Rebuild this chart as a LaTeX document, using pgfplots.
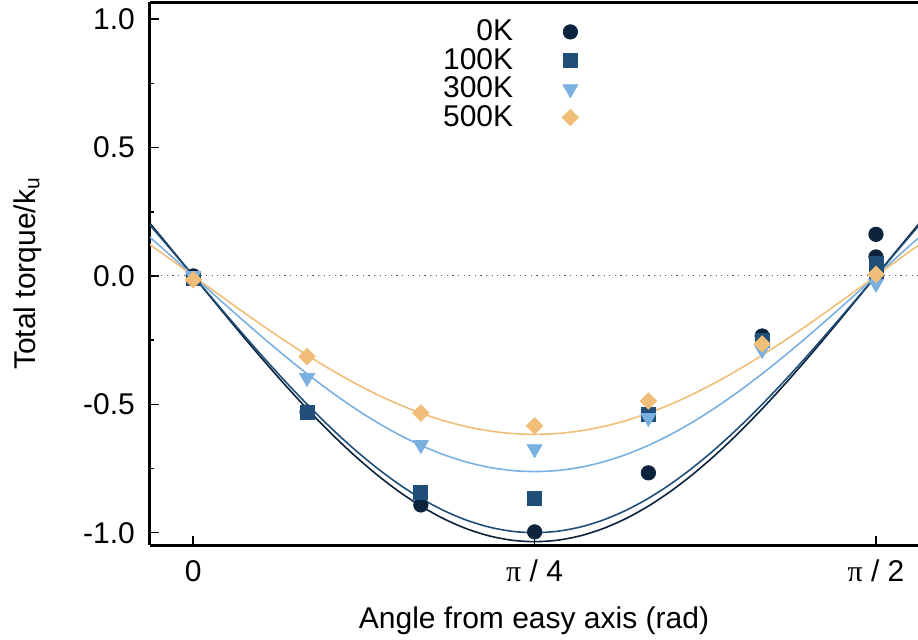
\documentclass[border=0pt]{standalone}
\usepackage{fontspec}
\setmainfont{Liberation Sans}
\newfontfamily\greekfont{Liberation Serif}
\usepackage{pgfplots}
\usepackage{pgfplotstable}
\pgfplotsset{compat=1.18}

\definecolor{c0}{HTML}{0B233C}
\definecolor{c100}{HTML}{1F4E79}
\definecolor{c300}{HTML}{7AB0E0}
\definecolor{c500}{HTML}{F0BE78}

% simulated total torque (angle in rad)
\pgfplotstableread{
theta t0 t100 t300 t500
0 0 -0.01 0 -0.015
0.261799 -0.53 -0.533 -0.397 -0.314
0.523599 -0.892 -0.845 -0.658 -0.534
0.785398 -0.997 -0.865 -0.674 -0.584
1.047198 -0.767 -0.538 -0.553 -0.487
1.308997 -0.234 -0.25 -0.288 -0.265
1.570796 0.162 0.05 -0.03 0.006
1.570796 0.074 0.015 nan nan
}\pts

% fitted curves
\pgfplotstableread{
theta f0 f100 f300 f500
-0.10472 0.21519 0.20791 0.15843 0.12828
-0.05236 0.10819 0.10453 0.07965 0.06450
0.00000 0 0 0 0
0.05236 -0.10819 -0.10453 -0.07965 -0.06450
0.10472 -0.21519 -0.20791 -0.15843 -0.12828
0.15708 -0.31984 -0.30902 -0.23547 -0.19067
0.20944 -0.42098 -0.40674 -0.30994 -0.25096
0.26180 -0.51750 -0.50000 -0.38100 -0.30850
0.31416 -0.60836 -0.58779 -0.44790 -0.36267
0.36652 -0.69255 -0.66913 -0.50988 -0.41285
0.41888 -0.76915 -0.74314 -0.56627 -0.45852
0.47124 -0.83734 -0.80902 -0.61647 -0.49917
0.52360 -0.89634 -0.86603 -0.65991 -0.53434
0.57596 -0.94552 -0.91355 -0.69613 -0.56366
0.62832 -0.98435 -0.95106 -0.72471 -0.58680
0.68068 -1.01239 -0.97815 -0.74535 -0.60352
0.73304 -1.02933 -0.99452 -0.75782 -0.61362
0.78540 -1.03500 -1.00000 -0.76200 -0.61700
0.83776 -1.02933 -0.99452 -0.75782 -0.61362
0.89012 -1.01239 -0.97815 -0.74535 -0.60352
0.94248 -0.98435 -0.95106 -0.72471 -0.58680
0.99484 -0.94552 -0.91355 -0.69613 -0.56366
1.04720 -0.89634 -0.86603 -0.65991 -0.53434
1.09956 -0.83734 -0.80902 -0.61647 -0.49917
1.15192 -0.76915 -0.74314 -0.56627 -0.45852
1.20428 -0.69255 -0.66913 -0.50988 -0.41285
1.25664 -0.60836 -0.58779 -0.44790 -0.36267
1.30900 -0.51750 -0.50000 -0.38100 -0.30850
1.36136 -0.42098 -0.40674 -0.30994 -0.25096
1.41372 -0.31984 -0.30902 -0.23547 -0.19067
1.46608 -0.21519 -0.20791 -0.15843 -0.12828
1.51844 -0.10819 -0.10453 -0.07965 -0.06450
1.57080 0 0 0 0
1.62316 0.10819 0.10453 0.07965 0.06450
1.67552 0.21519 0.20791 0.15843 0.12828
}\fits

\begin{document}
\begin{tikzpicture}[font=\fontsize{15}{18}\selectfont]
\begin{axis}[
  at={(0,0)}, anchor=south west,
  scale only axis, width=384pt, height=271.5pt,
  xmin=-0.0996, xmax=1.6675, ymin=-1.048, ymax=1.067,
  axis x line*=box, axis y line*=left,
  axis line style={line width=1.5pt, black},
  xtick={0,0.785398,1.570796},
  xticklabels={0, {\greekfont π} / 4, {\greekfont π} / 2},
  ytick={-1,-0.5,0,0.5,1},
  yticklabels={-1.0,-0.5,0.0,0.5,1.0},
  minor ytick={-0.75,-0.25,0.25,0.75},
  xtick pos=left, ytick pos=left,
  tick align=inside,
  major tick length=4.5pt, minor tick length=2pt,
  tick style={line width=0.8pt, black},
  yticklabel style={xshift=-4pt},
  xticklabel style={yshift=-4pt},
  xlabel={Angle from easy axis (rad)},
  ylabel={Total torque/k\textsubscript{u}},
  xlabel style={at={(axis description cs:0.5,-0.1529)}, anchor=base},
  ylabel style={at={(axis description cs:-0.1497,0.5)}, anchor=base, rotate=0},
  legend cell align=right,
  legend plot pos=right,
  legend style={at={(axis description cs:0.5586,0.9714)}, anchor=north east,
    draw=none, fill=none, inner sep=0pt, row sep=0.3pt, column sep=23.5pt,
    nodes={inner sep=1pt}},
  clip=true,
]
\addplot[gray!70!black, line width=0.5pt, dash pattern=on 0.6pt off 2.2pt, forget plot]
  coordinates {(-0.0996,0) (1.6675,0)};

\addplot[only marks, mark=*, mark size=3.6pt, color=c0, mark options={draw=c0, fill=c0}]
  table[x=theta, y=t0] {\pts};
\addlegendentry{0K}
\addplot[c0, line width=0.8pt, smooth, forget plot] table[x=theta, y=f0] {\fits};

\addplot[only marks, mark=square*, mark size=3.5pt, color=c100, mark options={draw=c100, fill=c100}]
  table[x=theta, y=t100] {\pts};
\addlegendentry{100K}
\addplot[c100, line width=0.8pt, smooth, forget plot] table[x=theta, y=f100] {\fits};

\addplot[only marks, mark=triangle*, mark size=4.3pt, color=c300, mark options={draw=c300, fill=c300, rotate=180}]
  table[x=theta, y=t300] {\pts};
\addlegendentry{300K}
\addplot[c300, line width=0.8pt, smooth, forget plot] table[x=theta, y=f300] {\fits};

\addplot[only marks, mark=square*, mark size=2.9pt, color=c500, mark options={draw=c500, fill=c500, rotate=45}]
  table[x=theta, y=t500] {\pts};
\addlegendentry{500K}
\addplot[c500, line width=0.8pt, smooth, forget plot] table[x=theta, y=f500] {\fits};
\end{axis}
\pgfresetboundingbox
\path[use as bounding box] (-75pt,-47pt) rectangle (384pt,272.5pt);
\end{tikzpicture}
\end{document}
